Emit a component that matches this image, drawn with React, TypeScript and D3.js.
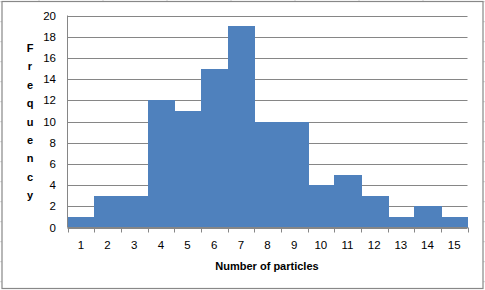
import React from "react";
import * as d3 from "d3";

const categories = ["1", "2", "3", "4", "5", "6", "7", "8", "9", "10", "11", "12", "13", "14", "15"];
const frequencies = [1, 3, 3, 12, 11, 15, 19, 10, 10, 4, 5, 3, 1, 2, 1];
const yTicks = [0, 2, 4, 6, 8, 10, 12, 14, 16, 18, 20];
const yLabel = "Frequency";
const xLabel = "Number of particles";

const W = 485;
const H = 290;
const left = 67.5;
const right = 467.5;
const top = 15.5;
const bottom = 227.5;
const font = "'Liberation Sans', Arial, sans-serif";

export default function App() {
  const x = d3.scaleBand<string>().domain(categories).range([left, right]).padding(0);
  const y = d3.scaleLinear().domain([0, 20]).range([bottom, top]);
  const rowLines = d3.range(0, 15).map((k) => 1.7 + 20 * k);
  const colLines = [39, 103, 167, 231, 295, 359, 423];

  return (
    <svg width={W} height={H} style={{ position: "absolute", left: 0, top: 0, background: "#fff" }}>
      {rowLines.map((r) => (
        <g key={"r" + r}>
          <line x1={0} x2={2} y1={r} y2={r} stroke="#d4d4d4" />
          <line x1={483} x2={485} y1={r} y2={r} stroke="#d4d4d4" />
        </g>
      ))}
      {colLines.map((c) => (
        <line key={"c" + c} x1={c} x2={c} y1={0} y2={1} stroke="#d4d4d4" />
      ))}
      <rect x={2} y={1.5} width={481} height={287} fill="#fff" stroke="#888" strokeWidth={1.2} />
      {yTicks.map((t) => (
        <line key={"g" + t} x1={left} x2={right} y1={Math.round(y(t)) + 0.5} y2={Math.round(y(t)) + 0.5} stroke="#868686" />
      ))}
      {frequencies.map((v, i) => {
        const x0 = Math.round(x(categories[i])!);
        const x1 = Math.round(x(categories[i])! + x.bandwidth());
        const y0 = Math.round(y(v));
        return (
          <rect
            key={"b" + i}
            x={x0}
            y={y0}
            width={x1 - x0 + (i < frequencies.length - 1 ? 0.5 : 0)}
            height={Math.round(bottom) - y0}
            fill="#4F81BD"
            shapeRendering="crispEdges"
          />
        );
      })}
      <line x1={left} x2={left} y1={top} y2={bottom} stroke="#868686" />
      <line x1={left} x2={right} y1={bottom} y2={bottom} stroke="#868686" />
      {d3.range(0, categories.length + 1).map((i) => {
        const xx = Math.round(left + i * x.step()) + 0.5;
        return <line key={"t" + i} x1={xx} x2={xx} y1={bottom} y2={bottom + 5} stroke="#868686" />;
      })}
      {yTicks.map((t) => (
        <text key={"yl" + t} x={56} y={y(t) + 4} textAnchor="end" fontFamily={font} fontSize={11.5} fill="#000">
          {t}
        </text>
      ))}
      {categories.map((c) => (
        <text key={"xl" + c} x={x(c)! + x.bandwidth() / 2} y={249} textAnchor="middle" fontFamily={font} fontSize={11.5} fill="#000">
          {c}
        </text>
      ))}
      {yLabel.split("").map((ch, i) => (
        <text key={"ych" + i} x={30} y={52 + i * 18.4} textAnchor="middle" fontFamily={font} fontSize={11} fontWeight="bold" fill="#000">
          {ch}
        </text>
      ))}
      <text x={267} y={270} textAnchor="middle" fontFamily={font} fontSize={11} fontWeight="bold" fill="#000">
        {xLabel}
      </text>
    </svg>
  );
}
